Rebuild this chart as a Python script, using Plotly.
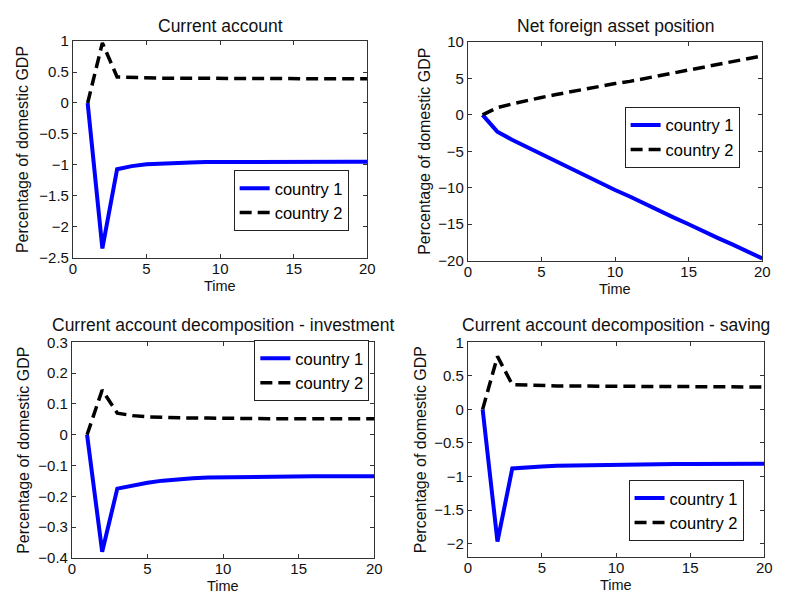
import plotly.graph_objects as go

# Impulse responses over 20 periods, in percent of domestic GDP
time = list(range(1, 21))

ca_c1 = [0, -2.35, -1.07, -1.02, -0.99, -0.975, -0.965, -0.96, -0.955, -0.953,
         -0.951, -0.95, -0.95, -0.95, -0.95, -0.95, -0.95, -0.95, -0.95, -0.95]
ca_c2 = [0, 0.97, 0.42, 0.41, 0.405, 0.40, 0.40, 0.398, 0.396, 0.395,
         0.394, 0.393, 0.392, 0.392, 0.391, 0.391, 0.39, 0.39, 0.39, 0.39]

nfa_c1 = [0, -2.3, -3.4, -4.4, -5.4, -6.4, -7.4, -8.4, -9.3, -10.3,
          -11.2, -12.2, -13.1, -14.1, -15.0, -16.0, -16.9, -17.8, -18.8, -19.7]
nfa_c2 = [0, 1.0, 1.5, 2.0, 2.4, 2.8, 3.2, 3.6, 3.9, 4.3,
          4.6, 5.0, 5.4, 5.8, 6.1, 6.5, 6.9, 7.3, 7.7, 8.1]

inv_c1 = [0, -0.38, -0.175, -0.165, -0.156, -0.149, -0.144, -0.141, -0.139, -0.138,
          -0.137, -0.137, -0.136, -0.136, -0.136, -0.135, -0.135, -0.135, -0.135, -0.135]
inv_c2 = [0, 0.145, 0.07, 0.062, 0.058, 0.056, 0.055, 0.054, 0.054, 0.053,
          0.053, 0.053, 0.052, 0.052, 0.052, 0.052, 0.052, 0.052, 0.052, 0.052]

sav_c1 = [0, -1.97, -0.88, -0.86, -0.85, -0.84, -0.835, -0.83, -0.825, -0.823,
          -0.82, -0.818, -0.816, -0.815, -0.814, -0.813, -0.812, -0.811, -0.81, -0.81]
sav_c2 = [0, 0.79, 0.37, 0.36, 0.355, 0.35, 0.348, 0.346, 0.344, 0.342,
          0.341, 0.34, 0.339, 0.338, 0.337, 0.337, 0.336, 0.336, 0.335, 0.335]

titles = ["Current account", "Net foreign asset position",
          "Current account decomposition - investment",
          "Current account decomposition - saving"]
series = [(ca_c1, ca_c2), (nfa_c1, nfa_c2), (inv_c1, inv_c2), (sav_c1, sav_c2)]
y_ranges = [[-2.5, 1], [-20, 10], [-0.4, 0.3], [-2.2, 1]]
y_dticks = [0.5, 5, 0.1, 0.5]

W, H = 787, 600
FONT = "Liberation Sans, Arial, sans-serif"

# panel boxes in pixels: left, right, top, bottom
boxes = [(70, 369, 33, 256), (471, 770, 34, 259),
         (69, 376, 343, 565), (471, 772, 343, 564)]
# legend anchors in pixels: right edge, vertical centre
legend_pos = [(350, 197), (747, 132), (371, 372), (751, 516)]
title_y = [17, 17, 325, 325]
ylab_x = [19, 427, 19, 423]

fig = go.Figure()
annotations = []
for i, ((c1, c2), (l, r, t, b)) in enumerate(zip(series, boxes)):
    n = "" if i == 0 else str(i + 1)
    leg = "legend" + n
    fig.add_trace(go.Scatter(x=time, y=c1, mode="lines", name="country 1",
                             line=dict(color="#0000ff", width=4),
                             xaxis="x" + n, yaxis="y" + n, legend=leg))
    fig.add_trace(go.Scatter(x=time, y=c2, mode="lines", name="country 2",
                             line=dict(color="#000000", width=3.5, dash="12px,6px"),
                             xaxis="x" + n, yaxis="y" + n, legend=leg))
    axis_common = dict(showgrid=False, zeroline=False, showline=True, mirror="ticks",
                       linecolor="#333", linewidth=1, ticks="inside", ticklen=4,
                       tickcolor="#333", tickfont=dict(family=FONT, size=15, color="#111"))
    fig.update_layout({
        "xaxis" + n: dict(domain=[l / W, r / W], range=[0, 20], dtick=5, tick0=0,
                          anchor="y" + n, ticklabelstandoff=-3, **axis_common),
        "yaxis" + n: dict(domain=[1 - b / H, 1 - t / H], range=y_ranges[i],
                          dtick=y_dticks[i], anchor="x" + n, **axis_common),
        leg: dict(x=legend_pos[i][0] / W, y=1 - legend_pos[i][1] / H,
                  xanchor="right", yanchor="middle", bgcolor="white",
                  bordercolor="#222", borderwidth=1, tracegroupgap=0,
                  font=dict(family=FONT, size=16.5, color="#000")),
    })
    annotations.append(dict(text=titles[i], x=(l + r) / 2 / W, y=1 - title_y[i] / H,
                            xref="paper", yref="paper", showarrow=False,
                            xanchor="center", yanchor="middle",
                            font=dict(family=FONT, size=17.5, color="#111")))
    annotations.append(dict(text="Percentage of domestic GDP", x=ylab_x[i] / W,
                            y=1 - (t + b) / 2 / H, xref="paper", yref="paper",
                            showarrow=False, textangle=-90, xanchor="center",
                            yanchor="middle", font=dict(family=FONT, size=16, color="#111")))
    annotations.append(dict(text="Time", x=(l + r) / 2 / W, y=1 - (b + 29) / H,
                            xref="paper", yref="paper", showarrow=False,
                            xanchor="center", yanchor="middle",
                            font=dict(family=FONT, size=14.5, color="#111")))

fig.update_layout(width=W, height=H, margin=dict(l=0, r=0, t=0, b=0),
                  paper_bgcolor="white", plot_bgcolor="white",
                  annotations=annotations, showlegend=True)

fig.write_html("out.html")
